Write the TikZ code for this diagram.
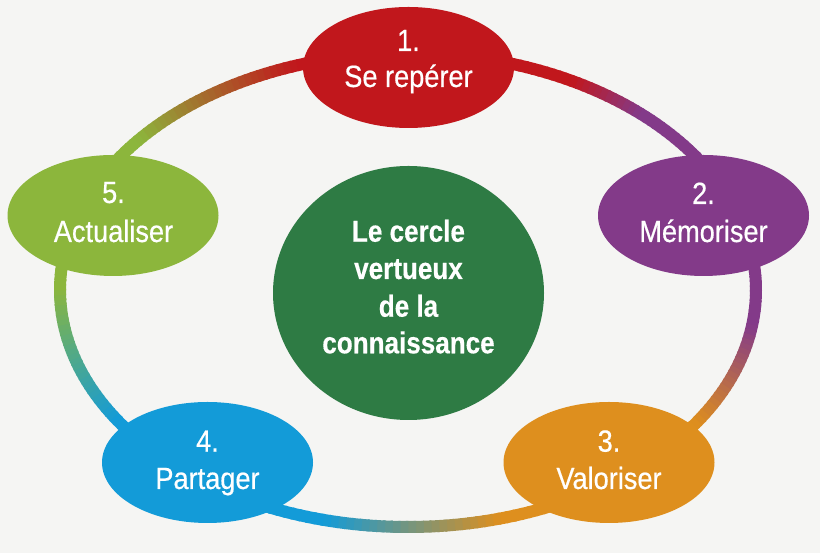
\documentclass[tikz,border=0pt]{standalone}
\usepackage{fontspec}
\setmainfont{Liberation Sans}[FakeStretch=0.885, FakeBold=0.5]
\newfontfamily\boldf{Liberation Sans}[FakeStretch=0.86, FakeBold=0.4]
\usetikzlibrary{shapes.geometric}
\definecolor{bg}{HTML}{F5F5F3}
\definecolor{cred}{HTML}{C1171C}
\definecolor{cpurple}{HTML}{833A89}
\definecolor{corange}{HTML}{DE8F1E}
\definecolor{cblue}{HTML}{139BD8}
\definecolor{cgreen}{HTML}{8CB63C}
\definecolor{cdark}{HTML}{2E7B44}
\begin{document}
\begin{tikzpicture}[x=1pt,y=1pt,
  stage/.style={ellipse, minimum width=211pt, minimum height=121pt, inner sep=0pt, draw=none},
  corebox/.style={ellipse, minimum width=271pt, minimum height=254pt, inner sep=0pt, draw=none, fill=cdark},
  lbl/.style={text=white, font=\fontsize{30.7}{36}\selectfont, anchor=base, inner sep=0pt},
  corelbl/.style={text=white, font=\boldf\bfseries\fontsize{30.3}{37}\selectfont, anchor=base, inner sep=0pt}]
\fill[bg] (0,0) rectangle (820,553);
\useasboundingbox (0,0) rectangle (820,553);
\coordinate (ring) at (408,263);
% gradient ring (start angle / end angle / colours / transition window)
\foreach \a/\b/\ca/\cb/\lo/\hi in {90/20.3/cred/cpurple/0.40/0.60, 20.3/-51.5/cpurple/corange/0.40/0.76, -51.5/-128.4/corange/cblue/0.30/0.68, -128.4/-200.3/cblue/cgreen/0.25/0.72, -200.3/-270/cgreen/cred/0.27/0.73}{
  \foreach \i in {0,...,59}{
    \pgfmathsetmacro\ts{\a+(\b-\a)*\i/60}
    \pgfmathsetmacro\te{\a+(\b-\a)*(\i+1.3)/60}
    \pgfmathtruncatemacro\g{100*min(max(((\i+0.5)/60-\lo)/(\hi-\lo),0),1)}
    \draw[line width=12pt, draw=\cb!\g!\ca] ([shift={(\ts:348pt and 237pt)}]ring) arc[start angle=\ts, end angle=\te, x radius=348pt, y radius=237pt];
  }
}
% stages
\node[stage, fill=cred] (e1) at (408.5,485.5) {};
\node[stage, fill=cpurple] (e2) at (703.5,337.5) {};
\node[stage, fill=corange] (e3) at (609,90.5) {};
\node[stage, fill=cblue] (e4) at (207.5,90.5) {};
\node[stage, fill=cgreen] (e5) at (113,337.5) {};
\node[corebox] (core) at (408.5,260) {};
% labels
\node[lbl] (t1a) at (408.5,502) {1.};
\node[lbl] (t1b) at (408.5,466) {Se repérer};
\node[lbl] (t2a) at (703.5,349) {2.};
\node[lbl] (t2b) at (703.5,311) {Mémoriser};
\node[lbl] (t3a) at (609,101.3) {3.};
\node[lbl] (t3b) at (609,64) {Valoriser};
\node[lbl] (t4a) at (207.5,101.3) {4.};
\node[lbl] (t4b) at (207.5,64) {Partager};
\node[lbl] (t5a) at (113.5,350) {5.};
\node[lbl] (t5b) at (113.5,311) {Actualiser};
\node[corelbl] (c1) at (408.5,311.3) {Le cercle};
\node[corelbl] (c2) at (408.5,274) {vertueux};
\node[corelbl] (c3) at (408.5,236.3) {de la};
\node[corelbl] (c4) at (408.5,199.7) {connaissance};
\end{tikzpicture}
\end{document}
